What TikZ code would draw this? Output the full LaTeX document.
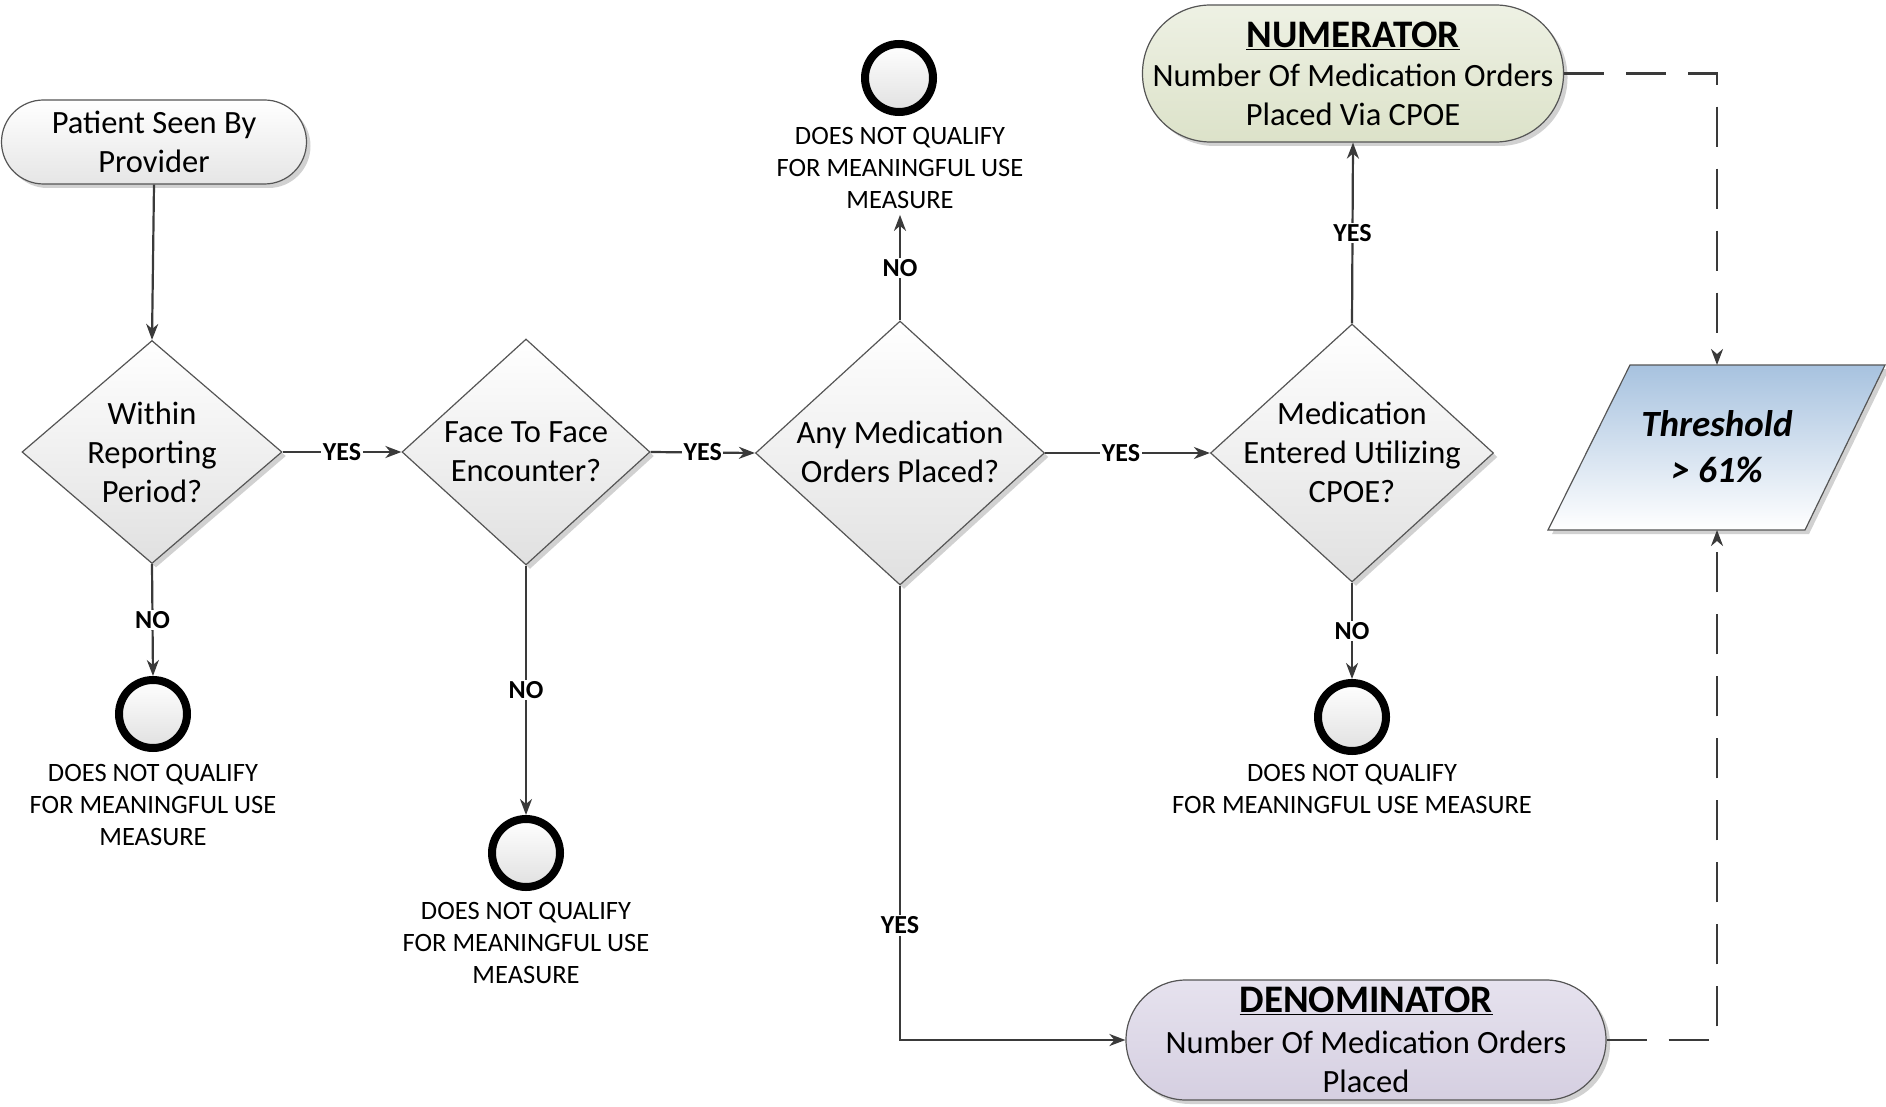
\documentclass[tikz,border=0pt]{standalone}
\usepackage{fontspec}
\setmainfont{Carlito}
\usetikzlibrary{shapes.geometric,shapes.misc,arrows.meta,shadows,calc}
\definecolor{lineC}{HTML}{3A3A3A}
\definecolor{bordC}{HTML}{555555}
\definecolor{numTop}{HTML}{EEF1E4}
\definecolor{numBot}{HTML}{DCE2C9}
\definecolor{denTop}{HTML}{E6E2EE}
\definecolor{denBot}{HTML}{D5CFE1}
\definecolor{thrTop}{HTML}{A7C2DF}
\newcommand\myBig{\fontsize{32.5}{39}\selectfont}
\newcommand\mySmall{\fontsize{26.5}{32}\selectfont}
\begin{document}
\begin{tikzpicture}[x=1pt,y=-1pt,
  shad/.style={drop shadow={shadow xshift=4pt,shadow yshift=-4pt,fill=black,opacity=0.18}},
  term/.style={rectangle,draw=bordC,line width=1.2pt,inner sep=0pt,align=center,font=\myBig,shad},
  dia/.style={diamond,draw=bordC,line width=1.2pt,inner sep=0pt,top color=white,bottom color=black!12,shad},
  dtext/.style={align=center,font=\myBig,inner sep=0pt},
  circ/.style={circle,draw=black,line width=8pt,minimum size=68pt,inner sep=0pt,top color=white,bottom color=black!12},
  ctext/.style={align=center,font=\mySmall,inner sep=0pt},
  arr/.style={draw=lineC,line width=2.2pt,-{Stealth[length=16pt,width=12pt,inset=5pt]}},
  dsh/.style={draw=lineC,line width=2.4pt,dash pattern=on 40pt off 22pt,-{Stealth[length=16pt,width=12pt,inset=5pt]}},
  lbl/.style={font=\bfseries\fontsize{26}{30}\selectfont,fill=white,inner sep=1.5pt}
]
\useasboundingbox (0,0) rectangle (1886,1107);

% start terminal
\node[term,rounded corners=42pt,minimum width=305pt,minimum height=84pt,top color=white,bottom color=black!10] (start) at (154,142) {Patient Seen By\\Provider};

% diamonds
\node[dia,minimum width=260pt,minimum height=223pt] (d1) at (152,452) {};
\node[dtext] (d1t) at (152,452) {Within\\Reporting\\Period?};
\node[dia,minimum width=248pt,minimum height=226pt] (d2) at (526,452) {};
\node[dtext] (d2t) at (526,452) {Face To Face\\Encounter?};
\node[dia,minimum width=289pt,minimum height=264pt] (d3) at (900,453) {};
\node[dtext] (d3t) at (900,452) {Any Medication\\Orders Placed?};
\node[dia,minimum width=283pt,minimum height=258pt] (d4) at (1352,453) {};
\node[dtext] (d4t) at (1352,452) {Medication\\Entered Utilizing\\CPOE?};

% numerator / denominator
\node[term,rounded corners=68pt,minimum width=421pt,minimum height=137pt,top color=numTop,bottom color=numBot] (num) at (1353,73.5)
  {{\bfseries\fontsize{39}{39}\selectfont\underline{NUMERATOR}}\\Number Of Medication Orders\\Placed Via CPOE};
\node[term,rounded corners=60pt,minimum width=480pt,minimum height=120pt,top color=denTop,bottom color=denBot] (den) at (1366,1040)
  {{\bfseries\fontsize{39}{39}\selectfont\underline{DENOMINATOR}}\\[2pt]Number Of Medication Orders\\Placed};

% end circles
\node[circ] (c1) at (153,714) {};
\node[ctext] (c1t) at (153,805) {DOES NOT QUALIFY\\FOR MEANINGFUL USE\\MEASURE};
\node[circ] (c2) at (526,853) {};
\node[ctext] (c2t) at (526,943) {DOES NOT QUALIFY\\FOR MEANINGFUL USE\\MEASURE};
\node[circ] (c3) at (899,78) {};
\node[ctext] (c3t) at (900,168) {DOES NOT QUALIFY\\FOR MEANINGFUL USE\\MEASURE};
\node[circ] (c4) at (1352,717) {};
\node[ctext] (c4t) at (1352,789) {DOES NOT QUALIFY\\FOR MEANINGFUL USE MEASURE};

% threshold parallelogram
\fill[black,opacity=0.18] (1634,369) -- (1889,369) -- (1809,534) -- (1552,534) -- cycle;
\shade[top color=thrTop,bottom color=white,draw=bordC,line width=1.2pt] (1630,365) -- (1885,365) -- (1805,530) -- (1548,530) -- cycle;
\node[align=center,inner sep=0pt,font=\bfseries\itshape\fontsize{37}{46}\selectfont] (thr) at (1717,447) {Threshold\\> 61\%};
\coordinate (thrtop) at (1717,365);
\coordinate (thrbot) at (1717,530);

% connectors
\draw[arr] (start.south) -- (d1.north);
\draw[arr] (d1.east) -- node[lbl] (l1) {YES} (d2.west);
\draw[arr] (d2.east) -- node[lbl] (l2) {YES} (d3.west);
\draw[arr] (d3.east) -- node[lbl,pos=0.46] (l3) {YES} (d4.west);
\draw[arr] (d4.north) -- node[lbl] (l4) {YES} (num.south);
\draw[arr] (d1.south) -- node[lbl] (l5) {NO} (c1.north);
\draw[arr] (d2.south) -- node[lbl] (l6) {NO} (c2.north);
\draw[arr] (d3.north) -- node[lbl] (l7) {NO} ([yshift=-6pt]c3t.south);
\draw[arr] (d4.south) -- node[lbl] (l8) {NO} (c4.north);
\draw[arr] (d3.south) |- node[lbl,pos=0.374] (l9) {YES} (den.west);
\draw[dsh] (num.east) -| (thrtop);
\draw[dsh] (den.east) -| (thrbot);
\end{tikzpicture}
\end{document}
